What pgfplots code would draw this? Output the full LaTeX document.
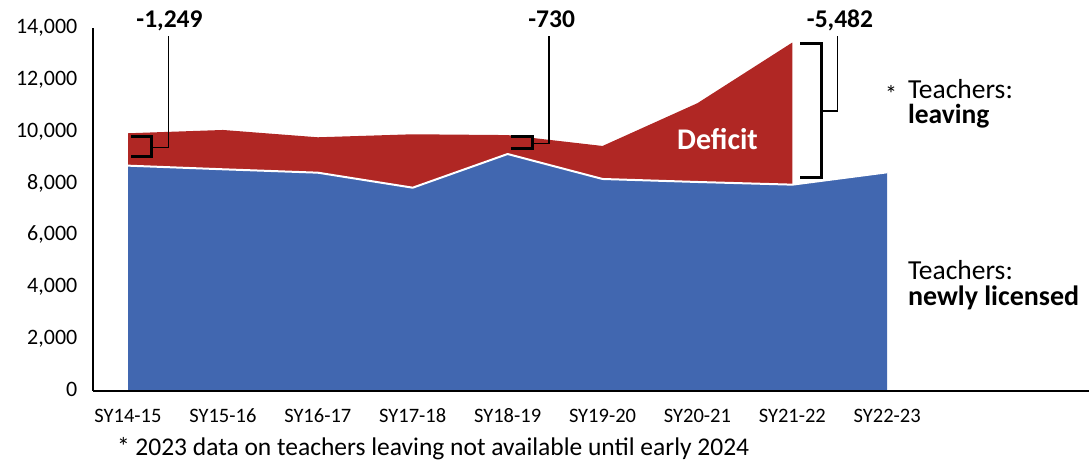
\documentclass[border=0pt]{standalone}
\usepackage{pgfplots}
\pgfplotsset{compat=1.18}
\usepackage{fontspec}
\setmainfont{Carlito}
\definecolor{deficitred}{RGB}{176,39,36}
\definecolor{licblue}{RGB}{65,103,176}
\begin{document}
\begin{tikzpicture}[lbl/.style={inner sep=0pt, outer sep=0pt}]
\path[use as bounding box] (0pt,0pt) rectangle (1089pt,462pt);
\begin{axis}[
  at={(93pt,71pt)}, anchor=south west,
  scale only axis, width=996pt, height=363pt,
  xmin=-0.3688, xmax=10.126, ymin=0, ymax=14000,
  axis x line=bottom, axis y line=left,
  axis line style={-, line width=2.2pt, black},
  axis on top,
  xtick={0,...,8},
  xticklabels={SY14-15,SY15-16,SY16-17,SY17-18,SY18-19,SY19-20,SY20-21,SY21-22,SY22-23},
  ytick={0,2000,...,14000},
  scaled y ticks=false,
  major tick length=0pt,
  tick style={draw=none},
  xticklabel style={font=\fontsize{20.5}{22}\selectfont, anchor=base, inner sep=0pt, yshift=-31.7pt},
  yticklabel style={font=\fontsize{22}{24}\selectfont, anchor=base east, inner sep=0pt, xshift=-15.5pt, yshift=-5.5pt},
  /pgf/number format/1000 sep={,},
  /pgf/number format/assume math mode=true,
  clip=false,
]
% Teachers leaving (red, behind)
\addplot[fill=deficitred, draw=none] coordinates {
  (0,9940) (1,10067) (2,9785) (3,9901) (4,9870) (5,9450) (6,11100) (7,13440)
} \closedcycle;
% Teachers newly licensed (blue, in front)
\addplot[fill=licblue, draw=none] coordinates {
  (0,8691) (1,8551) (2,8420) (3,7841) (4,9140) (5,8177) (6,8061) (7,7958) (8,8435)
} \closedcycle;
\addplot[white, line width=2pt, line join=round] coordinates {
  (0,8691) (1,8551) (2,8420) (3,7841) (4,9140) (5,8177) (6,8061) (7,7958) (8,8435)
};
\end{axis}
% annotation brackets
\draw[line width=3pt] (131pt,325.3pt) -- (151.7pt,325.3pt) -- (151.7pt,305.3pt) -- (131pt,305.3pt);
\draw[line width=1.4pt] (151.7pt,314.7pt) -- (168.3pt,314.7pt) -- (168.3pt,426pt);
\node[lbl, anchor=base, font=\bfseries\fontsize{25.5}{28}\selectfont] at (169.5pt,434.7pt) {-1,249};

\draw[line width=3pt] (511pt,325.3pt) -- (532.3pt,325.3pt) -- (532.3pt,313pt) -- (511pt,313pt);
\draw[line width=1.4pt] (532.3pt,318.7pt) -- (549pt,318.7pt) -- (549pt,426pt);
\node[lbl, anchor=base, font=\bfseries\fontsize{25.5}{28}\selectfont] at (551.7pt,434.7pt) {-730};

\draw[line width=3pt] (800pt,418.7pt) -- (821.7pt,418.7pt) -- (821.7pt,284.3pt) -- (800pt,284.3pt);
\draw[line width=1.4pt] (821.7pt,351pt) -- (837.7pt,351pt) -- (837.7pt,426pt);
\node[lbl, anchor=base, font=\bfseries\fontsize{25.5}{28}\selectfont] at (840pt,434.7pt) {-5,482};

\node[lbl, anchor=base, text=white, font=\bfseries\fontsize{30}{32}\selectfont] at (717.5pt,312.7pt) {Deficit};

% series labels
\node[lbl, anchor=center, font=\fontsize{24}{26}\selectfont] at (891pt,368pt) {*};
\node[lbl, anchor=base west, font=\fontsize{27.5}{30}\selectfont] at (908pt,363.5pt) {Teachers:};
\node[lbl, anchor=base west, font=\bfseries\fontsize{27.5}{30}\selectfont] at (908pt,338.2pt) {leaving};
\node[lbl, anchor=base west, font=\fontsize{27.5}{30}\selectfont] at (908pt,182.7pt) {Teachers:};
\node[lbl, anchor=base west, font=\bfseries\fontsize{28}{30}\selectfont] at (908pt,156pt) {newly licensed};

% footnote
\node[lbl, anchor=base west, font=\fontsize{25.5}{27}\selectfont] at (117pt,6pt) {* 2023 data on teachers leaving not available until early 2024};
\end{tikzpicture}
\end{document}
